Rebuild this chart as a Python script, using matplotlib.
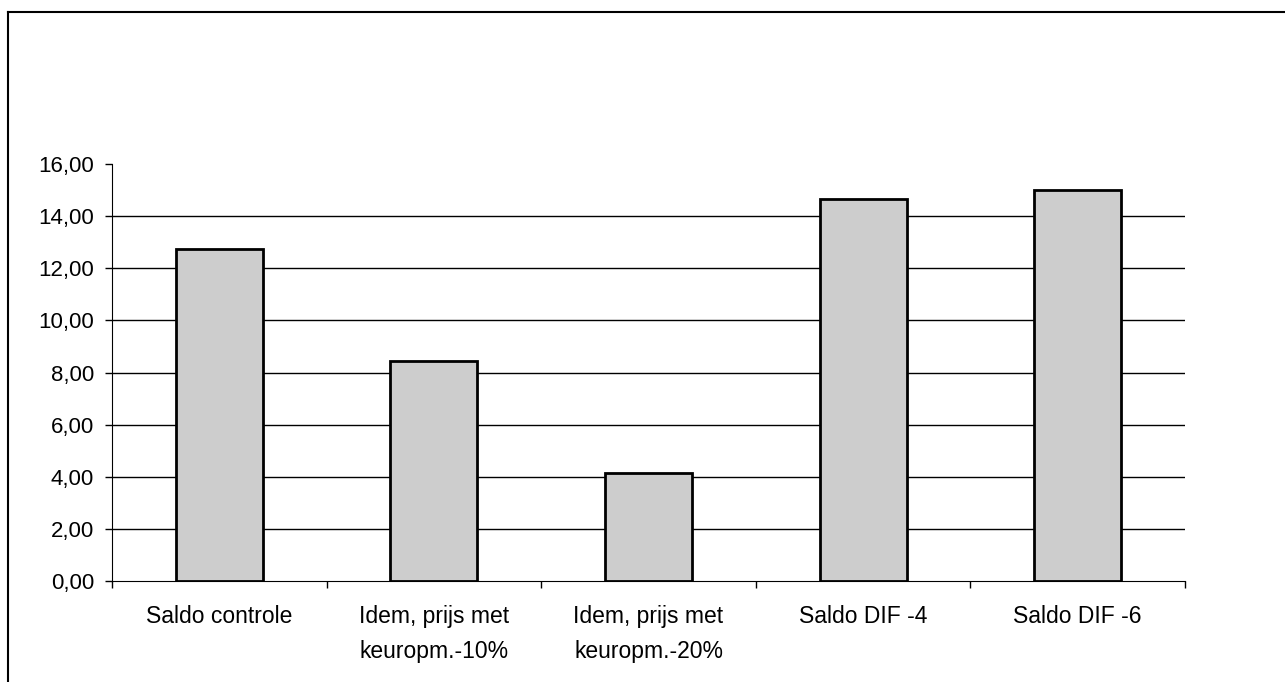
import matplotlib.pyplot as plt
from matplotlib.lines import Line2D
from matplotlib.ticker import FuncFormatter, FixedLocator

plt.rcParams['font.family'] = ['Liberation Sans', 'DejaVu Sans']

# Saldo per scenario
categories = [
    "Saldo controle",
    "Idem, prijs met\nkeuropm.-10%",
    "Idem, prijs met\nkeuropm.-20%",
    "Saldo DIF -4",
    "Saldo DIF -6",
]
values = [12.74, 8.44, 4.14, 14.66, 15.00]
y_ticks = [0, 2, 4, 6, 8, 10, 12, 14, 16]

fig = plt.figure(figsize=(12.85, 6.82), dpi=100)
ax = fig.add_axes([0.0872, 0.148, 0.835, 0.6115])

x = list(range(len(categories)))
ax.bar(x, values, width=0.405, color="#cdcdcd", edgecolor="black",
       linewidth=2, zorder=3)

ax.set_xlim(-0.5, len(categories) - 0.5)
ax.set_ylim(0, 16)
ax.set_yticks(y_ticks)
ax.yaxis.set_major_formatter(FuncFormatter(lambda v, p: f"{v:.2f}".replace(".", ",")))

# category labels centred, ticks on the boundaries
ax.set_xticks(x)
ax.set_xticklabels(categories, fontsize=16.5, linespacing=1.7)
ax.tick_params(axis="x", length=0, pad=17)
ax.xaxis.set_minor_locator(FixedLocator([i - 0.5 for i in range(len(categories) + 1)]))
ax.tick_params(axis="x", which="minor", length=5, direction="out", width=1)
ax.tick_params(axis="y", length=5, direction="out", width=1, labelsize=16, pad=8)

for v in y_ticks[1:-1]:
    ax.axhline(v, color="black", linewidth=1, zorder=1)

for side in ("top", "right"):
    ax.spines[side].set_visible(False)
ax.spines["left"].set_color("black")
ax.spines["bottom"].set_color("black")

# chart area border (top and left)
fig.add_artist(Line2D([8 / 1285, 1.0], [1 - 12 / 682, 1 - 12 / 682],
                      transform=fig.transFigure, color="black", linewidth=1.5))
fig.add_artist(Line2D([8 / 1285, 8 / 1285], [0.0, 1 - 12 / 682],
                      transform=fig.transFigure, color="black", linewidth=1.5))

plt.savefig("out.png", dpi=100)
